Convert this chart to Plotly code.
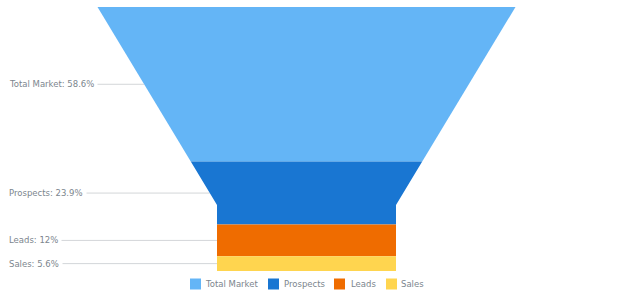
import plotly.graph_objects as go

# ---- data ----
categories = ["Total Market", "Prospects", "Leads", "Sales"]
values = [58.6, 23.9, 12, 5.6]
colors = ["#64b5f6", "#1976d2", "#ef6c00", "#ffd54f"]

# ---- funnel geometry (style) ----
W, H = 620, 300
CX = 306.5          # funnel centre (x axis units = px)
TOP_HW = 209.0      # half width at top
NECK_HW = 89.5      # half width of neck
NECK_FRAC = 0.25    # neck height as share of total
TEXT_COLOR = "#7c868e"
FONT = "DejaVu Sans"

total = sum(values)
neck_start = total * (1 - NECK_FRAC)


def hw(y):
    if y >= neck_start:
        return NECK_HW
    return TOP_HW - (TOP_HW - NECK_HW) * y / neck_start


fig = go.Figure()
shapes = []
annotations = []
cum = 0.0
for cat, v, c in zip(categories, values, colors):
    y0, y1 = cum, cum + v
    ys = [y0]
    if y0 < neck_start < y1:
        ys.append(neck_start)
    ys.append(y1)
    right = [(CX + hw(y), y) for y in ys]
    left = [(CX - hw(y), y) for y in reversed(ys)]
    pts = right + left + [right[0]]
    fig.add_trace(go.Scatter(
        x=[p[0] for p in pts], y=[p[1] for p in pts],
        fill="toself", fillcolor=c, mode="lines",
        line=dict(width=0, color=c), name=cat,
        hoverinfo="name", showlegend=False,
    ))
    ym = (y0 + y1) / 2
    shapes.append(dict(type="line", xref="x", yref="y", x0=14, x1=CX - hw(ym),
                       y0=ym, y1=ym, line=dict(color="#d3d6d9", width=1), layer="below"))
    label_val = f"{v:g}%"
    annotations.append(dict(x=5, y=ym, xref="x", yref="y", text=f"{cat}: {label_val}",
                            showarrow=False, xanchor="left", yanchor="middle",
                            bgcolor="white", borderpad=3,
                            font=dict(family=FONT, size=8.5, color=TEXT_COLOR)))
    cum = y1

# ---- custom legend (layout styling) ----
legend_sq_x = [190, 268, 334, 386]
legend_txt_x = [204, 283, 350, 400]
plot_top, plot_bot = 7, 271
ph = plot_bot - plot_top


def py(pix):
    return (plot_bot - pix) / ph


for cat, c, sx, tx in zip(categories, colors, legend_sq_x, legend_txt_x):
    shapes.append(dict(type="rect", xref="x", yref="paper", x0=sx, x1=sx + 11,
                       y0=py(289.5), y1=py(278.5), fillcolor=c, line=dict(width=0)))
    annotations.append(dict(x=tx - 1, y=py(284), xref="x", yref="paper", text=cat,
                            showarrow=False, xanchor="left", yanchor="middle",
                            font=dict(family=FONT, size=8.5, color=TEXT_COLOR)))

fig.update_layout(
    width=W, height=H,
    margin=dict(l=0, r=0, t=plot_top, b=H - plot_bot),
    paper_bgcolor="white", plot_bgcolor="white",
    xaxis=dict(range=[0, W], visible=False, fixedrange=True),
    yaxis=dict(range=[total, 0], visible=False, fixedrange=True),
    shapes=shapes, annotations=annotations,
    showlegend=False,
)

fig.write_html("out.html")
